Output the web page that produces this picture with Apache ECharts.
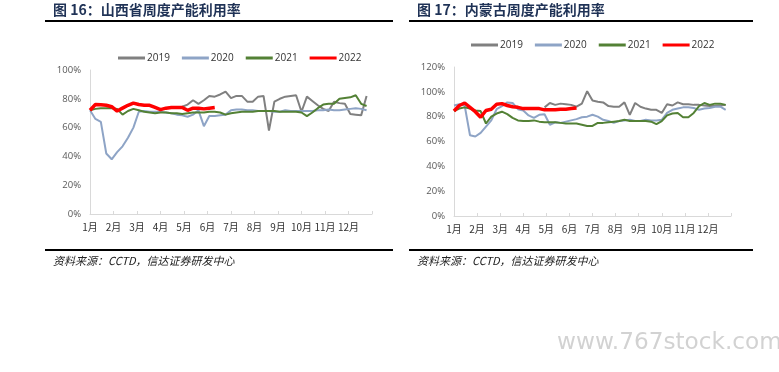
<!DOCTYPE html>
<html>
<head>
<meta charset="utf-8">
<script src="https://cdn.jsdelivr.net/npm/echarts@6/dist/echarts.min.js"></script>
<style>html,body{margin:0;padding:0;background:#fff}#c{width:779px;height:372px}</style>
</head>
<body>
<div id="c"></div>
<script>
// ---- data ----
var monthLabels = ['1月','2月','3月','4月','5月','6月','7月','8月','9月','10月','11月','12月'];
var years = ['2019','2020','2021','2022'];
var weeksPerYear = 52;
var N = null;

// 山西省周度产能利用率 (%), weekly, index 0..51
var sx2019 = [N,N,N,N,N,N,N,N,N,N,N,N,N,N,N,N,N,74.5,76,79,76.5,79,82,81.5,83,85,80.5,82,82,78,78,81.5,82,58,78,80,81.5,82,82.5,71,81.5,78.5,75.5,73,71.5,78,77,76.5,69.5,69,68.5,82];
var sx2020 = [72,66,64,42,38,43,47,53,60,71,71.5,71,71,71,70.5,70,69,68.5,67.5,69,72,61,68,68,68.5,69,72,72.5,72.5,72,72,71.5,71.5,71.5,71,71,72,71.5,71.5,71.5,71.5,71.5,72,72,72.5,72,72,72.5,73,73.5,73,72];
var sx2021 = [72,73,73.5,73.5,73.5,73,69,71.5,73,72,71,70.5,70,70.5,70.5,70,70,69.5,70,70.5,70.5,70.5,71,71,70.5,69,70,70.5,71,71,71,71.5,71.5,71.5,71.5,71,71,71,71,70.5,68,70.5,73.5,76,76.5,76.5,80,80.5,81,82.5,76.5,75];
var sx2022 = [72,76,75.8,75.5,74.5,71.5,73.5,75.5,77,76,75.5,75.5,74,72.5,73.5,74,74,74,72,73.5,73.5,73,73.5,74];

// 内蒙古周度产能利用率 (%)
var nm2019 = [N,N,N,N,N,N,N,N,N,N,N,N,N,N,N,N,N,87.5,91,89.5,90.5,90,89.5,88,90.5,100.5,93,92,91.5,88.5,88,88,91.5,81.5,91,88,86.5,85.5,85.5,83,90,89,91.5,90,90,89.5,89.5,89,88.5,88.5,89,89.5];
var nm2020 = [89,90,89,65,64,67,72,77,86,88.5,91.5,91,86,85,81,79,81.5,82,73.5,75.5,75,76,77,78,79.5,80,81.5,80,77.5,76.5,75,76.5,77,77.5,76.5,76.5,77.5,77,77,77.5,83,85.5,86.5,87.5,87.5,87,85.5,86.5,87,88,88,85.5];
var nm2021 = [84.5,86.5,87.5,86.5,85,84.5,74.5,80,82.5,84,82,79,77,76.5,76.5,77,76,75.5,75.5,75.5,75,74.5,74.5,74.5,73.5,72.5,72.5,75,75,75.5,76,76.5,77.5,76.5,76.5,76.5,76.5,76,74,76.5,81,82.5,83,79.5,79.5,83,88.5,91,89.5,90.5,90.5,89.5];
var nm2022 = [84.5,89,91,87.5,84,79.5,85,86,90,90.5,89,88,87.5,86.5,86.5,86.5,86.5,85.5,85.5,85.5,86,86,86.5,87];

var colors = {'2019':'#808080','2020':'#8ea4c6','2021':'#538135','2022':'#ff0000'};
var widths = {'2019':2,'2020':2,'2021':2,'2022':3.5};

function pts(arr){
  var out = [];
  for (var i = 0; i < arr.length; i++) out.push([i * 12 / weeksPerYear, arr[i]]);
  return out;
}

var chart = echarts.init(document.getElementById('c'));
var axisCol = '#d9d9d9';

function xAxis(gi){
  return {
    type:'value', gridIndex:gi, min:0, max:12, interval:1,
    axisLine:{show:true, lineStyle:{color:axisCol, width:1}},
    axisTick:{show:true, inside:true, length:3, lineStyle:{color:axisCol}},
    splitLine:{show:false},
    axisLabel:{margin:8, fontSize:10, color:'#333', fontFamily:'Noto Sans CJK SC',
      formatter:function(v){ var k = Math.round(v); return k < 12 ? monthLabels[k] : ''; }}
  };
}
function yAxis(gi, max){
  return {
    type:'value', gridIndex:gi, min:0, max:max, interval:20,
    axisLine:{show:true, lineStyle:{color:axisCol}},
    axisTick:{show:false},
    splitLine:{show:false},
    axisLabel:{margin:9, fontSize:9.5, color:'#595959', fontFamily:'Open Sans', formatter:'{value}%'}
  };
}

var seriesList = [];
var sxData = {'2019':sx2019,'2020':sx2020,'2021':sx2021,'2022':sx2022};
var nmData = {'2019':nm2019,'2020':nm2020,'2021':nm2021,'2022':nm2022};
[[sxData,0],[nmData,1]].forEach(function(p){
  years.forEach(function(y){
    seriesList.push({
      name:y, type:'line', xAxisIndex:p[1], yAxisIndex:p[1],
      data:pts(p[0][y]), symbol:'none', showSymbol:false, connectNulls:false,
      lineStyle:{color:colors[y], width:widths[y]}, itemStyle:{color:colors[y]},
      z: y === '2022' ? 5 : 3, animation:false
    });
  });
});

function legend(x, top){
  return {
    data: years.map(function(y){ return {name:y, icon:'rect', itemStyle:{color:colors[y]}}; }),
    left: x, top: top, orient:'horizontal', padding:0,
    itemWidth:27, itemHeight:3, itemGap:12,
    textStyle:{fontSize:10, color:'#333', fontFamily:'Open Sans', padding:[0,0,0,-3]},
    selectedMode:false
  };
}

var titleStyle = {fill:'#1f3256', fontSize:14, fontWeight:'bold', fontFamily:'Noto Sans CJK SC'};
var srcStyle = {fill:'#222', fontSize:11, fontStyle:'italic', fontFamily:'Noto Sans CJK SC'};

chart.setOption({
  animation:false,
  backgroundColor:'#fff',
  grid:[
    {left:90, top:70, width:282, height:144},
    {left:454, top:67, width:277, height:149}
  ],
  xAxis:[xAxis(0), xAxis(1)],
  yAxis:[yAxis(0,100), yAxis(1,120)],
  legend:[legend(118, 53), legend(471, 40)],
  series: seriesList,
  graphic:[
    {type:'text', left:53, top:3, style:Object.assign({text:'图 16：山西省周度产能利用率'}, titleStyle)},
    {type:'text', left:417, top:3, style:Object.assign({text:'图 17：内蒙古周度产能利用率'}, titleStyle)},
    {type:'rect', shape:{x:45, y:20, width:348, height:2}, style:{fill:'#000'}},
    {type:'rect', shape:{x:409, y:20, width:344, height:2}, style:{fill:'#000'}},
    {type:'rect', shape:{x:45, y:249, width:348, height:2}, style:{fill:'#000'}},
    {type:'rect', shape:{x:409, y:249, width:344, height:2}, style:{fill:'#000'}},
    {type:'text', left:53, top:255, style:Object.assign({text:'资料来源：CCTD，信达证券研发中心'}, srcStyle)},
    {type:'text', left:417, top:255, style:Object.assign({text:'资料来源：CCTD，信达证券研发中心'}, srcStyle)},
    {type:'text', left:557, top:331, style:{text:'www.767stock.com', fill:'#d2d2d2', fontSize:23.2, fontFamily:'DejaVu Sans'}}
  ]
});
</script>
</body>
</html>
